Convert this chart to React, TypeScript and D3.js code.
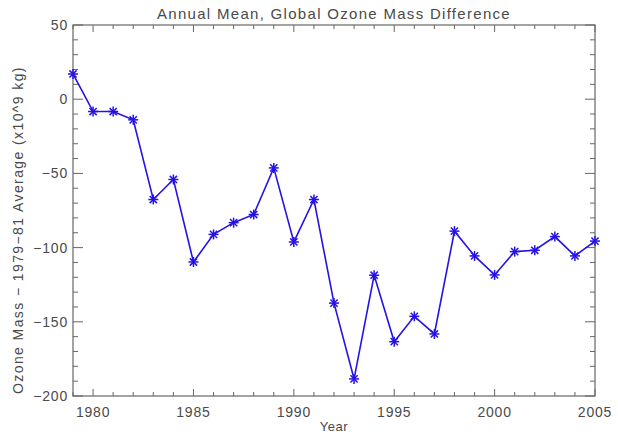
import { scaleLinear, line, range } from 'd3';

const width = 618;
const height = 434;
const margin = { top: 25, right: 23, bottom: 38, left: 73 };
const innerWidth = width - margin.left - margin.right;
const innerHeight = height - margin.top - margin.bottom;

const years = [
  1979, 1980, 1981, 1982, 1983, 1984, 1985, 1986, 1987, 1988, 1989, 1990, 1991,
  1992, 1993, 1994, 1995, 1996, 1997, 1998, 1999, 2000, 2001, 2002, 2003, 2004, 2005,
];
const ozoneDiff = [
  17.0, -8.3, -8.3, -13.9, -67.6, -54.1, -109.7, -91.1, -83.2, -77.7, -46.3, -96.2, -67.6,
  -137.4, -188.5, -118.6, -163.4, -146.3, -158.2, -88.9, -105.6, -118.4, -102.7, -101.8,
  -92.6, -105.6, -95.6,
];
const xTickLabels = [1980, 1985, 1990, 1995, 2000, 2005];
const yTickLabels = [50, 0, -50, -100, -150, -200];

const axisColor = '#666';
const textColor = '#4a4a4a';
const lineColor = '#2512e6';
const font = '"Liberation Sans", Arial, sans-serif';

function Star({ x, y }: { x: number; y: number }) {
  const r = 5;
  const d = r * 0.72;
  return (
    <g stroke={lineColor} strokeWidth={1.5}>
      <line x1={x - r} x2={x + r} y1={y} y2={y} />
      <line x1={x} x2={x} y1={y - r} y2={y + r} />
      <line x1={x - d} x2={x + d} y1={y - d} y2={y + d} />
      <line x1={x - d} x2={x + d} y1={y + d} y2={y - d} />
    </g>
  );
}

export default function App() {
  const xScale = scaleLinear().domain([1979, 2005]).range([0, innerWidth]);
  const yScale = scaleLinear().domain([-200, 50]).range([innerHeight, 0]);

  const data = years.map((yr, i) => ({ year: yr, value: ozoneDiff[i] }));
  const path = line<{ year: number; value: number }>()
    .x((d) => xScale(d.year))
    .y((d) => yScale(d.value))(data);

  const xMinor = range(1979, 2006).filter((v) => v % 5 !== 0);
  const yMinor = range(-190, 50, 10).filter((v) => v % 50 !== 0);

  return (
    <svg width={width} height={height} style={{ position: 'absolute', left: 0, top: 0 }}>
      <rect width={width} height={height} fill="#fff" />
      <text
        x={margin.left + innerWidth / 2}
        y={19}
        textAnchor="middle"
        fontFamily={font}
        fontSize={15}
        letterSpacing={1.3}
        fill={textColor}
      >
        Annual Mean, Global Ozone Mass Difference
      </text>
      <g transform={`translate(${margin.left},${margin.top})`}>
        <rect x={0} y={0} width={innerWidth} height={innerHeight} fill="none" stroke={axisColor} strokeWidth={1.2} />
        {/* x ticks, bottom and top */}
        {xTickLabels.map((v) => (
          <g key={'xm' + v}>
            <line x1={xScale(v)} x2={xScale(v)} y1={innerHeight} y2={innerHeight - 7} stroke={axisColor} />
            <line x1={xScale(v)} x2={xScale(v)} y1={0} y2={7} stroke={axisColor} />
            <text
              x={xScale(v)}
              y={innerHeight + 21}
              textAnchor="middle"
              fontFamily={font}
              fontSize={14}
              letterSpacing={0.8}
              fill={textColor}
            >
              {v}
            </text>
          </g>
        ))}
        {xMinor.map((v) => (
          <g key={'xn' + v}>
            <line x1={xScale(v)} x2={xScale(v)} y1={innerHeight} y2={innerHeight - 4} stroke={axisColor} />
            <line x1={xScale(v)} x2={xScale(v)} y1={0} y2={4} stroke={axisColor} />
          </g>
        ))}
        {/* y ticks, left and right */}
        {yTickLabels.map((v) => (
          <g key={'ym' + v}>
            <line x1={0} x2={10} y1={yScale(v)} y2={yScale(v)} stroke={axisColor} />
            <line x1={innerWidth} x2={innerWidth - 10} y1={yScale(v)} y2={yScale(v)} stroke={axisColor} />
            <text
              x={-5}
              y={yScale(v) + 5}
              textAnchor="end"
              fontFamily={font}
              fontSize={14}
              letterSpacing={0.8}
              fill={textColor}
            >
              {v < 0 ? '\u2212' + Math.abs(v) : v}
            </text>
          </g>
        ))}
        {yMinor.map((v) => (
          <g key={'yn' + v}>
            <line x1={0} x2={5} y1={yScale(v)} y2={yScale(v)} stroke={axisColor} />
            <line x1={innerWidth} x2={innerWidth - 5} y1={yScale(v)} y2={yScale(v)} stroke={axisColor} />
          </g>
        ))}
        <path d={path || ''} fill="none" stroke={lineColor} strokeWidth={1.6} />
        {data.map((d) => (
          <Star key={d.year} x={xScale(d.year)} y={yScale(d.value)} />
        ))}
      </g>
      <text
        x={margin.left + innerWidth / 2}
        y={431}
        textAnchor="middle"
        fontFamily={font}
        fontSize={13}
        letterSpacing={0.5}
        fill={textColor}
      >
        Year
      </text>
      <text
        transform={`translate(23,230) rotate(-90)`}
        textAnchor="middle"
        fontFamily={font}
        fontSize={14}
        letterSpacing={1.4}
        fill={textColor}
      >
        Ozone Mass − 1979−81 Average (x10^9 kg)
      </text>
    </svg>
  );
}
